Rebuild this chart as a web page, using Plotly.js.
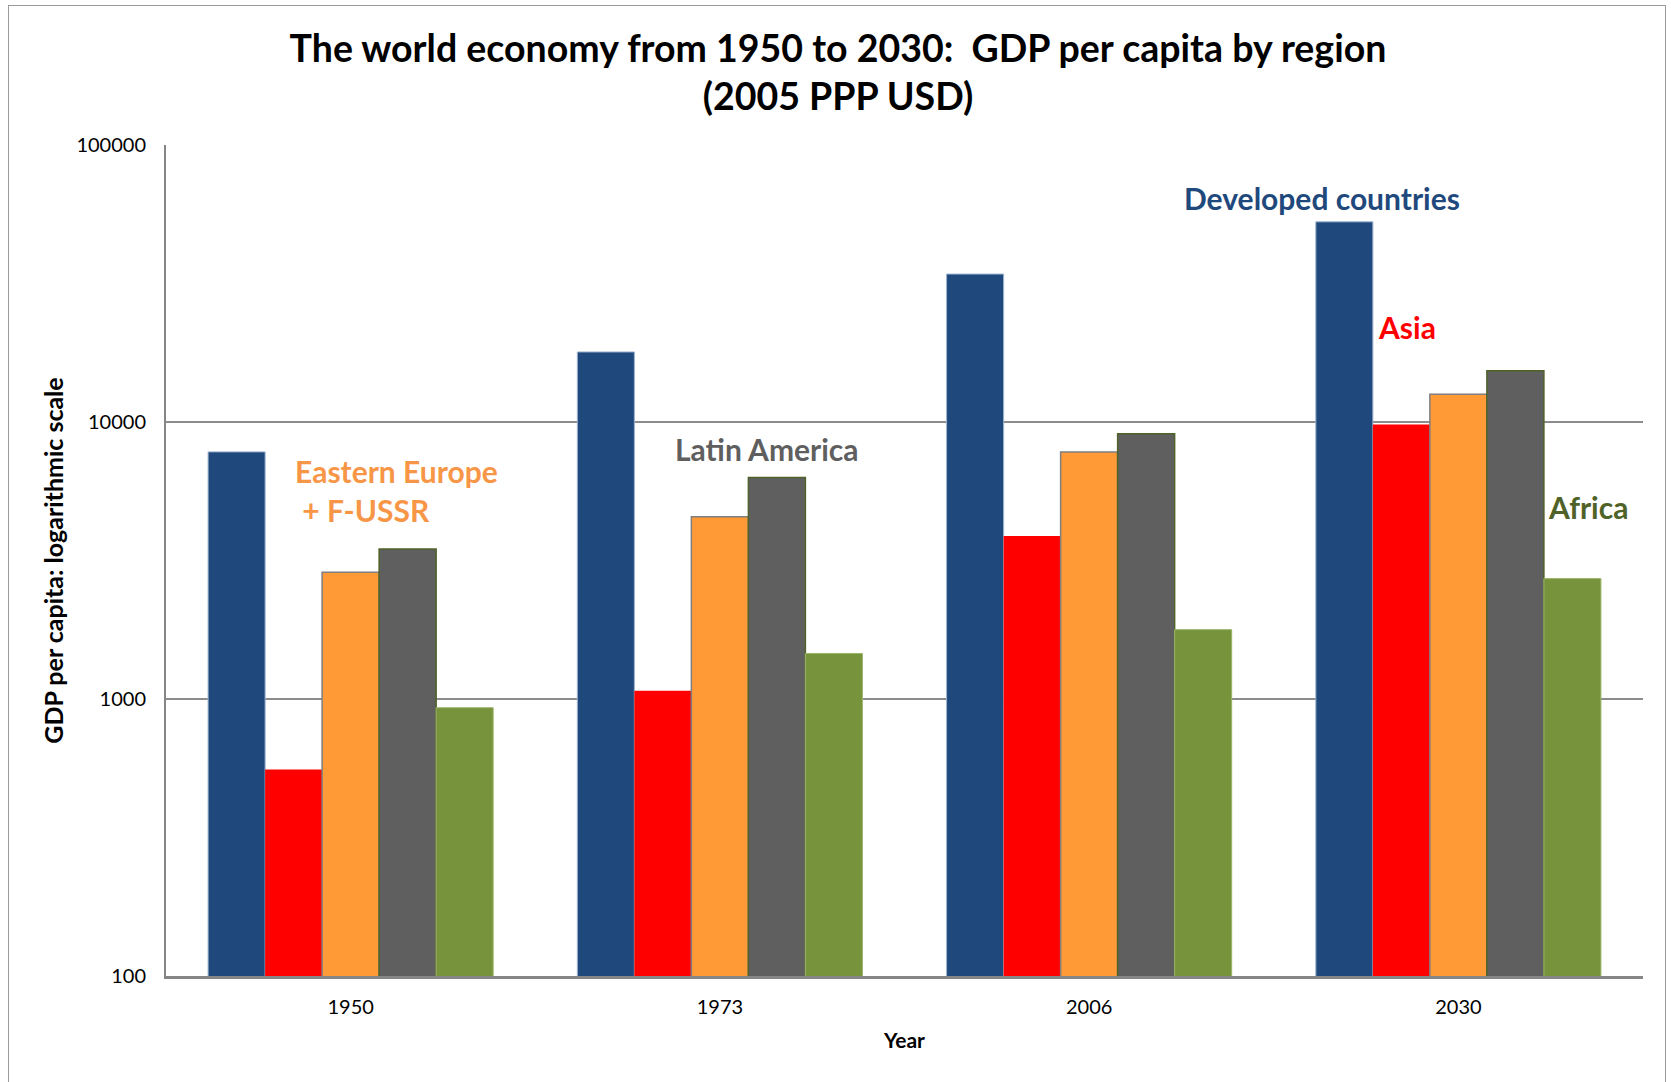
<!DOCTYPE html>
<html>
<head>
<meta charset="utf-8">
<script src="https://cdn.plot.ly/plotly-3.0.1.min.js"></script>
<style>
  html, body { margin: 0; padding: 0; background: #ffffff; }
  #wrap { position: relative; width: 1671px; height: 1082px; overflow: hidden; }
  #chart { position: absolute; left: 0; top: 0; width: 1671px; height: 1082px; }
  #frame { position: absolute; left: 8px; top: 5px; width: 1656px; height: 1100px;
           border: 1.5px solid #9a9a9a; pointer-events: none; z-index: 5; }
</style>
</head>
<body>
<div id="wrap">
  <div id="chart"></div>
  <div id="frame"></div>
</div>
<script>
// ---- data (GDP per capita, 2005 PPP USD) ----
const years = ['1950', '1973', '2006', '2030'];
const developed = [7800, 17900, 34200, 52800];
const asia = [557, 1070, 3880, 9800];
const easternEurope = [2870, 4550, 7800, 12600];
const latinAmerica = [3480, 6300, 9070, 15300];
const africa = [930, 1460, 1780, 2720];
const yTickVals = [100, 1000, 10000, 100000];
const yTickText = ['100', '1000', '10000', '100000'];

const seriesNames = ['Developed countries', 'Asia', 'Eastern Europe + F-USSR', 'Latin America', 'Africa'];
const seriesValues = [developed, asia, easternEurope, latinAmerica, africa];
const fillColors = ['#1F497D', '#FF0000', '#FF9A36', '#5F5F5F', '#77933C'];
const lineColors = ['#9DB2CF', '#FF0000', '#7F7F7F', '#4F6228', '#9BB56A'];
const lineWidths = [1, 0, 1.5, 1.5, 1];

const traces = seriesNames.map((name, i) => ({
  type: 'bar',
  name: name,
  x: years,
  y: seriesValues[i],
  marker: { color: fillColors[i], line: { color: lineColors[i], width: lineWidths[i] } },
  hoverinfo: 'x+y+name'
}));

const labelFont = 'Lato, "Open Sans", sans-serif';
const annotations = [
  { text: 'Developed countries', x: 0.783, y: 0.936, color: '#1F497D', align: 'center', xanchor: 'center' },
  { text: 'Asia', x: 0.840, y: 0.781, color: '#FF0000', align: 'center', xanchor: 'center' },
  { text: 'Eastern Europe<br> + F-USSR', x: 0.086, y: 0.584, color: '#F79646', align: 'left', xanchor: 'left' },
  { text: 'Latin America', x: 0.407, y: 0.634, color: '#5F5F5F', align: 'center', xanchor: 'center' },
  { text: 'Africa', x: 0.963, y: 0.564, color: '#4F6228', align: 'center', xanchor: 'center' }
].map(a => ({
  text: a.text, xref: 'paper', yref: 'paper', x: a.x, y: a.y,
  xanchor: a.xanchor, yanchor: 'middle', align: a.align, showarrow: false,
  font: { family: labelFont, size: 30, color: a.color, weight: 'bold' }
}));

const layout = {
  width: 1671,
  height: 1082,
  paper_bgcolor: '#ffffff',
  plot_bgcolor: '#ffffff',
  showlegend: false,
  barmode: 'group',
  bargap: 0.228,
  bargroupgap: 0,
  margin: { l: 166, r: 28, t: 145, b: 106 },
  title: {
    text: 'The world economy from 1950 to 2030:  GDP per capita by region<br>(2005 PPP USD)',
    font: { family: labelFont, size: 37.5, color: '#000000', weight: 'bold' },
    x: 0.5015, xanchor: 'center',
    yref: 'container', y: 0.943, yanchor: 'top'
  },
  xaxis: {
    type: 'category',
    showgrid: false,
    showline: true, linecolor: '#868686', linewidth: 3,
    ticks: '', ticklabelstandoff: 11,
    tickfont: { family: labelFont, size: 20, color: '#000000' },
    title: { text: 'Year', standoff: 17, font: { family: labelFont, size: 21, color: '#000000', weight: 'bold' } }
  },
  yaxis: {
    type: 'log',
    range: [2, 5],
    tickvals: yTickVals,
    ticktext: yTickText,
    showgrid: true, gridcolor: '#8C8C8C', gridwidth: 1.5,
    showline: true, linecolor: '#868686', linewidth: 2,
    zeroline: false,
    ticks: '', ticklabelstandoff: 14,
    tickfont: { family: labelFont, size: 20, color: '#000000' },
    title: { text: 'GDP per capita: logarithmic scale', standoff: 6, font: { family: labelFont, size: 25, color: '#000000', weight: 'bold' } }
  },
  annotations: annotations
};

Plotly.newPlot('chart', traces, layout, { displayModeBar: false, staticPlot: false });
</script>
</body>
</html>
